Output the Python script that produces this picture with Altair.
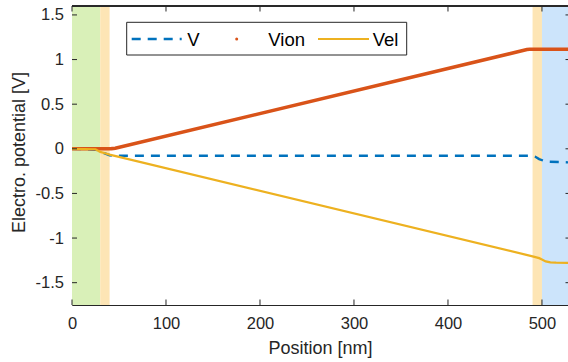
import altair as alt
import pandas as pd

# ---- data -------------------------------------------------------------
x_v = [0, 25, 30, 40, 45, 488, 493, 497, 502, 508, 530]
y_v = [0, -0.01, -0.03, -0.072, -0.078, -0.078, -0.09, -0.115, -0.135, -0.145, -0.153]

x_vion = [0, 38, 42, 46, 484, 487, 530]
y_vion = [0, 0, 0.002, 0.006, 1.112, 1.115, 1.115]

x_vel = [0, 25, 30, 35, 40, 490, 497, 500, 504, 509, 515, 530]
y_vel = [0, -0.005, -0.035, -0.05, -0.065, -1.205, -1.225, -1.24, -1.262, -1.272, -1.276, -1.278]

band_start = [0, 30, 490, 500]
band_end = [30, 40, 500, 530]
band_fill = ["#d9f0b8", "#fde5b5", "#fde5b5", "#cce4fb"]

x_ticks = [0, 100, 200, 300, 400, 500]
y_ticks = [-1.5, -1, -0.5, 0, 0.5, 1, 1.5]

# ---- layout -----------------------------------------------------------
W, H = 496, 299
X_DOMAIN = [0, 527.7]
Y_DOMAIN = [-1.75, 1.6]
FONT = "Liberation Sans"
AX = "#262626"
C_V, C_ION, C_EL = "#0072bd", "#d95319", "#edb120"

xs = alt.Scale(domain=X_DOMAIN, nice=False, zero=False)
ys = alt.Scale(domain=Y_DOMAIN, nice=False, zero=False)

x_axis = alt.Axis(values=x_ticks, title="Position [nm]", grid=False, ticks=False, tickSize=0,
                  labelPadding=10, labelFontSize=16.5, labelFont=FONT, labelColor=AX,
                  labelFlush=False, labelOverlap=False,
                  domainColor=AX, domainWidth=1, titleFont=FONT, titleFontSize=18,
                  titleFontWeight="normal", titleColor=AX, titleBaseline="alphabetic",
                  titleY=48.5, labelExpr="'' + datum.value")
y_axis = alt.Axis(values=y_ticks, title="Electro. potential [V]", grid=False, ticks=False,
                  tickSize=0, labelPadding=8.5, labelFontSize=16.5, labelFont=FONT,
                  labelFlush=False, labelOverlap=False,
                  labelColor=AX, domainColor=AX, domainWidth=1, titleFont=FONT,
                  titleFontSize=18, titleFontWeight="normal", titleColor=AX,
                  titleAngle=-90, titleAlign="center", titleBaseline="alphabetic",
                  titleX=-47.5, titleY=146, labelExpr="'' + datum.value")

bands = pd.DataFrame({"x0": band_start, "x1": band_end, "fill": band_fill})
band_layer = alt.Chart(bands).mark_rect(clip=True).encode(
    x=alt.X("x0:Q", scale=xs, axis=x_axis),
    x2="x1:Q",
    y=alt.Y("y0:Q", scale=ys, axis=y_axis),
    y2="y1:Q",
    fill=alt.Fill("fill:N", scale=None),
).transform_calculate(y0=str(Y_DOMAIN[0]), y1=str(Y_DOMAIN[1]))


def series(xv, yv, color, width, dash=None):
    df = pd.DataFrame({"x": xv, "y": yv})
    kw = dict(color=color, strokeWidth=width, clip=True)
    if dash:
        kw["strokeDash"] = dash
    return alt.Chart(df).mark_line(**kw).encode(
        x=alt.X("x:Q", scale=xs), y=alt.Y("y:Q", scale=ys))


line_v = series(x_v, y_v, C_V, 2.4, [9, 7])
line_ion = series(x_vion, y_vion, C_ION, 3.6)
line_el = series(x_vel, y_vel, C_EL, 2.2)

# inward tick marks on all four sides, plus the top frame line
yt = pd.DataFrame({"v": y_ticks})
xt = pd.DataFrame({"v": x_ticks})
tick_kw = dict(color=AX, strokeWidth=1)
ticks_left = alt.Chart(yt).mark_rule(**tick_kw).encode(
    y=alt.Y("v:Q", scale=ys), x=alt.value(0), x2=alt.value(5))
ticks_right = alt.Chart(yt).mark_rule(**tick_kw).encode(
    y=alt.Y("v:Q", scale=ys), x=alt.value(W - 2.5), x2=alt.value(W + 3))
ticks_top = alt.Chart(xt).mark_rule(**tick_kw).encode(
    x=alt.X("v:Q", scale=xs), y=alt.value(0), y2=alt.value(5.5))
ticks_bottom = alt.Chart(xt).mark_rule(**tick_kw).encode(
    x=alt.X("v:Q", scale=xs), y=alt.value(H - 5.5), y2=alt.value(H))
top_frame = alt.Chart(xt).mark_rule(**tick_kw).encode(
    x=alt.value(0), x2=alt.value(W + 3), y=alt.value(0))

# legend box
one = pd.DataFrame({"k": [0]})
LY = 33
leg_box = alt.Chart(one).mark_rect(fill="white", stroke=AX, strokeWidth=1).encode(
    x=alt.value(54.7), x2=alt.value(334.7), y=alt.value(16.3), y2=alt.value(49))
leg_v = alt.Chart(one).mark_rule(color=C_V, strokeWidth=2.4, strokeDash=[9, 7]).encode(
    x=alt.value(59.7), x2=alt.value(109.7), y=alt.value(LY))
leg_ion = alt.Chart(one).mark_circle(color=C_ION, size=9, opacity=1).encode(
    x=alt.value(164.7), y=alt.value(LY))
leg_el = alt.Chart(one).mark_rule(color=C_EL, strokeWidth=2.2).encode(
    x=alt.value(246), x2=alt.value(297), y=alt.value(LY))
text_kw = dict(font=FONT, fontSize=18.5, color="black", align="left", baseline="alphabetic")
leg_t1 = alt.Chart(one).mark_text(**text_kw).encode(
    x=alt.value(115.3), y=alt.value(40), text=alt.value("V"))
leg_t2 = alt.Chart(one).mark_text(**text_kw).encode(
    x=alt.value(196.3), y=alt.value(40), text=alt.value("Vion"))
leg_t3 = alt.Chart(one).mark_text(**text_kw).encode(
    x=alt.value(300.7), y=alt.value(40), text=alt.value("Vel"))

chart = alt.layer(
    band_layer, line_v, line_ion, line_el,
    ticks_left, ticks_right, ticks_top, ticks_bottom, top_frame,
    leg_box, leg_v, leg_ion, leg_el, leg_t1, leg_t2, leg_t3,
).properties(
    width=W, height=H,
    autosize=alt.AutoSizeParams(type="none"),
    padding={"left": 72, "top": 6, "right": 0, "bottom": 57},
    background="white",
).configure_view(stroke=None)

chart.save("out.html", embed_options={"renderer": "svg", "actions": False})
